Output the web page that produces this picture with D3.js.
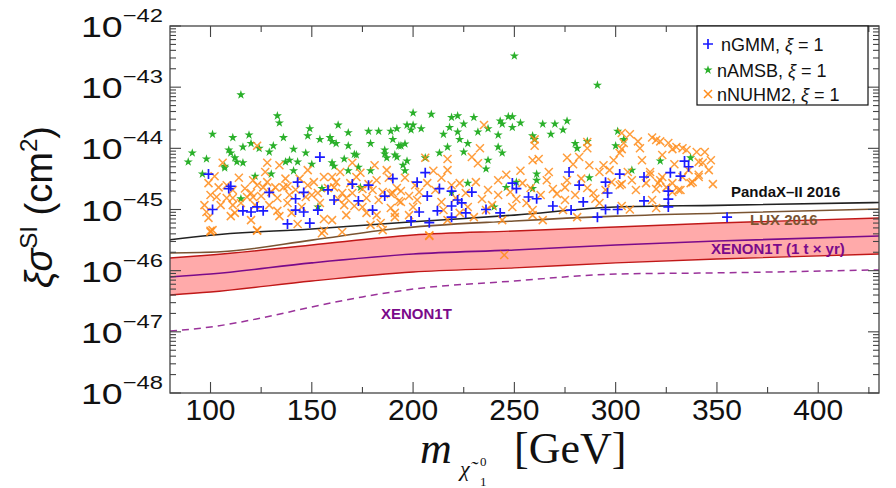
<!DOCTYPE html>
<html><head><meta charset="utf-8">
<script src="https://cdn.jsdelivr.net/npm/d3@7/dist/d3.min.js"></script>
<style>body{margin:0;background:#fff}svg{display:block}</style>
</head><body><svg id="c" width="896" height="488"></svg>
<script>
const SIGMA_UNIT = 1e-45;
const massTicks = [100,150,200,250,300,350,400];
const massMinorTicks = [125,175,225,275,325,375,425];
const sigmaExps = [-42,-43,-44,-45,-46,-47,-48];

const limitMass = [80,100,150,200,250,300,350,430];
const pandaX = [3.2e-46,3.8e-46,4.8e-46,6.3e-46,8.1e-46,1.1e-45,1.17e-45,1.3e-45];
const luxMass = [80,105,150,190,250,300,350,430];
const lux = [1.95e-46,2.04e-46,3.16e-46,4.8e-46,6.5e-46,7.8e-46,8.7e-46,1.02e-45];
const xenonMid = [7.9e-47,8.8e-47,1.34e-46,1.87e-46,2.18e-46,2.63e-46,3.05e-46,3.69e-46];
const xenonUp = [1.61e-46,1.80e-46,2.63e-46,3.83e-46,4.46e-46,5.18e-46,6.01e-46,7.26e-46];
const xenonLow = [4.0e-47,4.48e-47,6.78e-47,9.5e-47,1.11e-46,1.34e-46,1.55e-46,1.87e-46];
const xenonDashMass = [80,100,125,150,175,200,250,300,350,430];
const xenonDash = [1.03e-47,1.2e-47,1.68e-47,2.55e-47,3.72e-47,5.0e-47,6.78e-47,8.8e-47,9.2e-47,1.03e-46];

// nAMSB (green stars): mass GeV, sigma in 1e-45 cm^2
const amsbMass = [250,115,291,133,134,101,111,119,120,131,136,149,148,154,159,160,162,163,168,168,178,183,189,179,193,91,89,98,109,110,116,124,113,116,112,107,107,129,130,122,137,139,141,143,141,147,150,160,161,166,168,171,172,173,179,186,186,187,191,96,115,153,155,174,200,209,219,222,230,225,218,215,222,223,227,217,225,232,237,242,243,244,247,249,249,253,242,244,237,264,270,268,274,276,259,260,280,281,286,301,304,300,322,337,308,287,261,261,259,246,251,236,227,240,219,213,206,197,192,195,196,194,196,190,192,197,200,199,204];
const amsbSigma = [324,75,108,34,26,17,15,16.5,12,11,15,21,16,14,15,13,12,24,18,11,19,19,19,12,11,8.4,6,6.7,9.4,8.4,10.5,10,6,5.8,7,4.8,5.1,8.7,3.8,3.5,6,6.4,9.7,6,4.3,8.4,5.5,5.8,5.1,6.7,4.3,8,7.8,4.9,4.3,9.4,8.1,7,7.8,3.8,1.5,1.1,2.2,2.3,38,36,32,34,32,25,22,17,18.5,14,12,10.5,8.7,18.5,21,16.5,28,25,33,33,22,26,10.5,8.4,6.4,25,25,17,20,28,16,14,12,10,13,19,14,11,6.2,7,4.4,3.3,3.8,3,2.2,2.3,2.8,4.6,2.7,1.1,1.9,8.4,7,6.2,7.2,5.3,4.3,11,11.8,14,21,24,24,20,21];

// nGMM (blue plus)
const gmmMass = [99,110,109,101,116,120,123,126,129,138,142,143,142,146,146,149,153,158,161,154,170,173,178,180,186,190,206,202,207,213,219,222,224,229,219,203,212,219,199,208,226,236,243,249,251,257,261,269,277,278,282,284,295,296,302,301,295,291,314,314,326,326,326,327,332,334,336,355];
const gmmSigma = [3.8,2.4,2.2,1.0,0.95,0.91,1.1,0.95,1.9,0.58,1.5,2.8,0.98,1.9,0.91,0.6,0.98,2.1,1.43,7.2,2.6,1.38,2.5,0.98,1.66,3.2,4,2.8,1.66,2.2,2,1.43,1.28,1.93,1.14,0.91,0.95,0.75,0.65,0.61,0.88,1.0,0.88,2.7,2.2,1.6,1.5,1.14,4.1,0.98,2.5,1.33,2.8,1.86,3.8,1.0,1.0,0.75,1.38,3.4,2,1.48,1.1,4,3.5,6.2,5,0.75];

// nNUHM2 (orange x)
const nuhmMass = [123,106,99,100,103,104,111,108,111,111,98,99,100,110,112,117,118,120,121,123,128,126,127,128,132,133,133,134,136,138,139,138,140,145,148,150,151,156,160,162,161,156,160,163,165,167,170,169,172,174,170,175,177,180,182,183,185,189,192,193,167,171,177,182,191,184,179,156,143,123,101,
235,260,260,233,229,217,206,187,210,217,214,201,194,190,198,194,200,191,198,214,215,223,231,232,234,227,223,230,242,242,246,253,251,258,259,262,266,269,275,276,275,276,279,282,286,286,292,294,299,298,289,290,286,302,304,303,307,311,318,320,322,326,303,302,313,317,322,320,325,328,331,329,328,330,333,335,340,341,343,338,341,348,318,320,281,264,259,259,244,208,274,292,217,
303,308,317,321,323,328,332,337,341,307,303,333,100,123,155,165,185,208,245,
102,105,114,115,121,122,125,129,130,137,142,144,147,153,154,158,164,166,175,178,188,196,203,207,211,219,221,226,237,239,248,249,254,263,267,271,280,283,287,295,297,306,310,312,315,323,336,344,346,347,189,202,236,256,120,108,97,134,148,181];
const nuhmSigma = [11,5.8,2.7,1.73,1.6,2.3,2.08,1.54,1.54,1.18,0.91,0.73,0.45,0.78,0.88,2.2,1.6,1.86,1.6,2.5,2.8,2.3,4.1,5.8,2.3,1.54,0.95,0.78,2.3,2.4,1.73,1.28,0.88,1.1,2.5,1.73,2.8,3.4,3.4,2.8,2.3,0.7,0.67,1.48,1.86,1.54,1.86,2.7,3.4,4,5.8,2.16,1.54,2.08,3,1.43,1.93,1.8,2.24,1.38,0.81,1.14,0.88,0.81,0.75,0.6,0.56,0.45,0.58,0.45,0.46,
24,14,11,10,7.2,6.7,7,4.4,4.3,4.4,3.3,2.5,2,1.86,1.66,1.33,1.1,0.88,0.81,1.33,0.98,2.7,2.8,5.7,1.48,1.1,0.88,0.75,3.0,1.73,3.7,4.3,1.48,2.24,6.4,6.7,3,2.16,2.3,3,1.43,7,5.5,7.2,10,12.7,4.1,5.3,6.4,2.8,1.86,1.5,2.24,2.5,12.2,17.8,17,13,15,13.7,13,12.2,9.7,8.4,6.4,4.1,3,2.16,2.3,1.93,2.08,5.5,9.7,10.5,10,9.4,8.7,6,5.8,2.8,3.4,2.6,1.43,1.06,0.75,0.67,0.81,0.98,0.67,0.38,0.98,1.28,0.67,
2.6,3,3.7,2.7,3.4,2.7,2.08,2.7,3.7,1.0,1.14,3.4,0.43,0.46,0.41,0.43,0.46,0.37,0.18,
3.5,1.18,3.3,1.28,3.0,1.18,1.66,1.18,1.93,3.2,2.1,3.2,1.6,1.86,1.28,2.24,4.1,1.18,1.1,2.6,3.3,3.3,1.93,2.7,2.08,2.5,1.54,1.86,2.08,1.18,1.93,1.1,2.7,1.73,4.1,1.8,1.73,3.2,5.3,2.08,4.4,4.1,2.08,10,2.7,7.8,4.4,8.7,4.4,6.4,1.06,1.43,0.98,1.28,0.67,2.5,1.18,5.3,4.4,5.3];

const legendLabels = ["nGMM", "nAMSB", "nNUHM2"];
const colors = {gmm:"#1a1aff", amsb:"#2ab02a", nuhm:"#ff8c1a"};

const svg = d3.select("#c");
const L=170, R=879, T=26, B=393;
const x = d3.scaleLinear().domain([80,430]).range([L,R]);
const y = d3.scaleLog().domain([1e-48,1e-42]).range([B,T]);

svg.append("defs").append("clipPath").attr("id","clip").append("rect")
  .attr("x",L).attr("y",T).attr("width",R-L).attr("height",B-T);
const plot = svg.append("g").attr("clip-path","url(#clip)");

// XENON1T band
const area = d3.area().x((d,i)=>x(limitMass[i])).y0((d,i)=>y(xenonLow[i])).y1((d,i)=>y(xenonUp[i])).curve(d3.curveMonotoneX);
plot.append("path").attr("d",area(limitMass)).attr("fill","#ffaaaa");
const ln = (xs,ys)=>d3.line().x((d,i)=>x(xs[i])).y((d,i)=>y(ys[i])).curve(d3.curveMonotoneX)(xs);
plot.append("path").attr("d",ln(limitMass,xenonUp)).attr("fill","none").attr("stroke","#c01818").attr("stroke-width",1.4);
plot.append("path").attr("d",ln(limitMass,xenonLow)).attr("fill","none").attr("stroke","#c01818").attr("stroke-width",1.4);
plot.append("path").attr("d",ln(limitMass,xenonMid)).attr("fill","none").attr("stroke","#7a0a8a").attr("stroke-width",1.6);
plot.append("path").attr("d",ln(xenonDashMass,xenonDash)).attr("fill","none").attr("stroke","#9a329a").attr("stroke-width",1.5).attr("stroke-dasharray","7,5");
plot.append("path").attr("d",ln(luxMass,lux)).attr("fill","none").attr("stroke","#7a5432").attr("stroke-width",1.6);
plot.append("path").attr("d",ln(limitMass,pandaX)).attr("fill","none").attr("stroke","#222").attr("stroke-width",1.6);

// scatter
const star = d3.symbol().type(d3.symbolStar).size(26)();
plot.append("g").selectAll("path").data(amsbMass).join("path")
  .attr("transform",(d,i)=>`translate(${x(d)},${y(amsbSigma[i]*SIGMA_UNIT)})`)
  .attr("d",star).attr("fill",colors.amsb);
plot.append("g").selectAll("path").data(nuhmMass).join("path")
  .attr("transform",(d,i)=>`translate(${x(d)},${y(nuhmSigma[i]*SIGMA_UNIT)})`)
  .attr("d","M-4,-4L4,4M-4,4L4,-4").attr("stroke",colors.nuhm).attr("stroke-width",1.5).attr("opacity",0.85).attr("fill","none");
plot.append("g").selectAll("path").data(gmmMass).join("path")
  .attr("transform",(d,i)=>`translate(${x(d)},${y(gmmSigma[i]*SIGMA_UNIT)})`)
  .attr("d","M-5,0H5M0,-5V5").attr("stroke",colors.gmm).attr("stroke-width",1.7).attr("fill","none");

// limit labels
const lab = (t,xx,yy,c)=>svg.append("text").attr("x",xx).attr("y",yy).attr("fill",c)
  .attr("font-family","Liberation Sans, Arial, sans-serif").attr("font-weight","bold").attr("font-size",15).text(t);
lab("PandaX\u2013II 2016",731,197,"#111");
lab("LUX 2016",750,225,"#7a5432");
lab("XENON1T (1 t \u00d7 yr)",711,254,"#7a0a8a");
lab("XENON1T",381,319,"#7a0a8a");

// frame and ticks
const axc = "#444";
svg.append("rect").attr("x",L).attr("y",T).attr("width",R-L).attr("height",B-T).attr("fill","none").attr("stroke",axc).attr("stroke-width",1.3);
const tk = svg.append("g").attr("stroke",axc).attr("stroke-width",1.1);
massTicks.forEach(m=>{const xx=x(m);
  tk.append("line").attr("x1",xx).attr("x2",xx).attr("y1",B).attr("y2",B-11);
  tk.append("line").attr("x1",xx).attr("x2",xx).attr("y1",T).attr("y2",T+11);});
massMinorTicks.forEach(m=>{const xx=x(m);
  tk.append("line").attr("x1",xx).attr("x2",xx).attr("y1",B).attr("y2",B-6);
  tk.append("line").attr("x1",xx).attr("x2",xx).attr("y1",T).attr("y2",T+6);});
sigmaExps.forEach(e=>{
  const yy=y(Math.pow(10,e));
  tk.append("line").attr("x1",L).attr("x2",L+11).attr("y1",yy).attr("y2",yy);
  tk.append("line").attr("x1",R).attr("x2",R-11).attr("y1",yy).attr("y2",yy);
  if(e>-48){for(let k=2;k<=9;k++){const yv=y(k*Math.pow(10,e-1));
    tk.append("line").attr("x1",L).attr("x2",L+6).attr("y1",yv).attr("y2",yv);
    tk.append("line").attr("x1",R).attr("x2",R-6).attr("y1",yv).attr("y2",yv);}}
});

// x tick labels
svg.append("g").selectAll("text").data(massTicks).join("text")
  .attr("x",d=>x(d)).attr("y",420).attr("text-anchor","middle")
  .attr("font-family","Liberation Sans, Arial, sans-serif").attr("font-size",30).attr("fill","#111").text(d=>d);

// y tick labels
sigmaExps.forEach(e=>{
  const yy=y(Math.pow(10,e));
  const g=svg.append("g").attr("transform",`translate(163,${yy+11}) scale(1.25,1)`);
  const t=g.append("text").attr("text-anchor","end").attr("font-family","Liberation Sans, Arial, sans-serif").attr("fill","#111");
  t.append("tspan").attr("font-size",30).text("10");
  t.append("tspan").attr("font-size",19).attr("dy",-15).text("\u2212"+(-e));
});

// y axis title
const yt = svg.append("text").attr("transform","translate(52,288) rotate(-90)")
  .attr("font-family","Liberation Sans, Arial, sans-serif").attr("font-size",38).attr("fill","#111");
yt.append("tspan").attr("font-style","italic").text("\u03be\u03c3");
yt.append("tspan").attr("font-size",24).attr("dy",-15).text("SI");
yt.append("tspan").attr("dy",15).text(" (cm");
yt.append("tspan").attr("font-size",24).attr("dy",-15).text("2");
yt.append("tspan").attr("dy",15).text(")");

// x axis title
const serif="Liberation Serif, Times New Roman, serif";
svg.append("text").attr("x",420).attr("y",463).attr("font-family",serif).attr("font-style","italic").attr("font-size",44).attr("fill","#111").text("m");
svg.append("text").attr("x",460).attr("y",476).attr("font-family",serif).attr("font-style","italic").attr("font-size",22).attr("fill","#111").text("\u03c7\u0303");
svg.append("text").attr("x",480).attr("y",466).attr("font-family",serif).attr("font-size",13).attr("fill","#111").text("0");
svg.append("text").attr("x",480).attr("y",486).attr("font-family",serif).attr("font-size",13).attr("fill","#111").text("1");
svg.append("text").attr("x",514).attr("y",463).attr("font-family",serif).attr("font-size",44).attr("fill","#111").text("[GeV]");

// legend
const lg = svg.append("g");
lg.append("rect").attr("x",697).attr("y",26).attr("width",171).attr("height",79).attr("fill","#fff").attr("stroke","#111").attr("stroke-width",1.2);
const ly=[44,70,94];
lg.append("path").attr("transform",`translate(708,${ly[0]})`).attr("d","M-5,0H5M0,-5V5").attr("stroke",colors.gmm).attr("stroke-width",1.7);
lg.append("path").attr("transform",`translate(708,${ly[1]})`).attr("d",star).attr("fill",colors.amsb);
lg.append("path").attr("transform",`translate(708,${ly[2]})`).attr("d","M-4,-4L4,4M-4,4L4,-4").attr("stroke",colors.nuhm).attr("stroke-width",1.5);
legendLabels.forEach((s,i)=>{
  const t=lg.append("text").attr("x",i===0?721:717).attr("y",ly[i]+7).attr("font-family","Liberation Sans, Arial, sans-serif").attr("font-size",18).attr("fill","#111");
  t.append("tspan").text(s+", ");
  t.append("tspan").attr("font-style","italic").text("\u03be");
  t.append("tspan").text(" = 1");
});
</script></body></html>
